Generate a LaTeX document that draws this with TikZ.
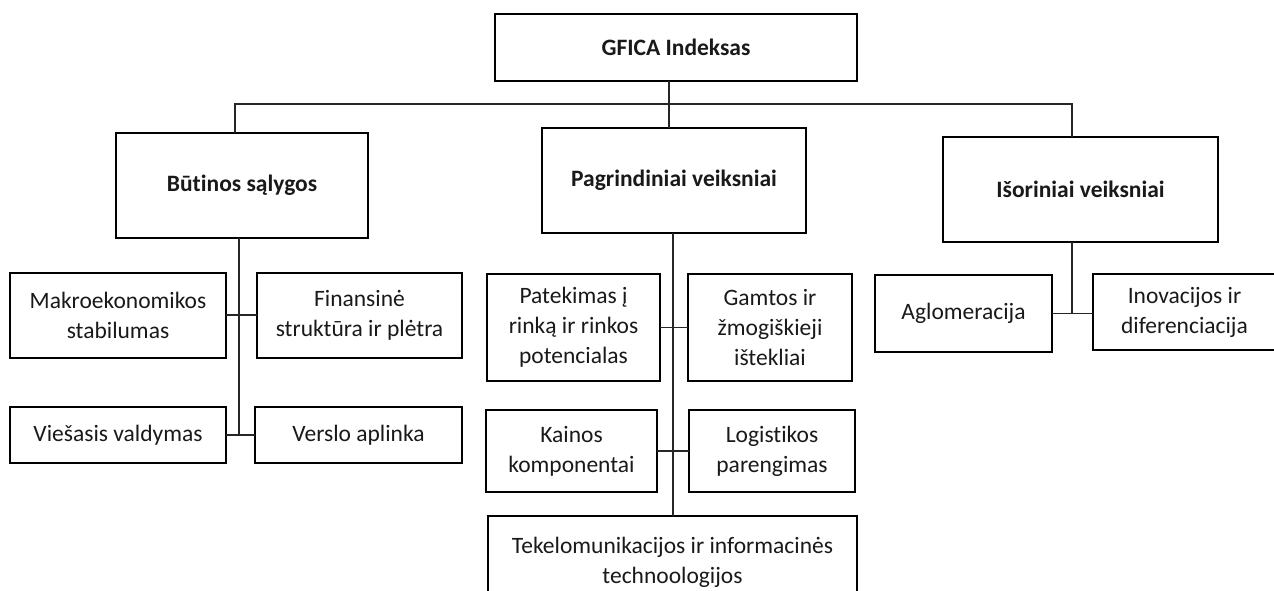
\documentclass[tikz,border=0pt]{standalone}
\usepackage{fontspec}
\setmainfont{Carlito}[RawFeature={-liga;-clig;-calt;-dlig;-rlig}]
\newcommand\tibreak{t\kern0pt i}
\begin{document}
\begin{tikzpicture}[x=1pt,y=-1pt,
  box/.style={draw=black,line width=2pt,inner sep=0pt,outer sep=0pt,align=center,
    font=\fontsize{23.5}{30}\selectfont, text=black!90},
  head/.style={box,font=\fontsize{23.5}{30}\selectfont\bfseries},
  conn/.style={draw=black!85,line width=1.2pt}]
\useasboundingbox (0,0) rectangle (1274,591);
\begin{scope}
\clip (0,0) rectangle (1274,591);
% top
\node[head,minimum width=362pt,minimum height=67pt] (gfica) at (676,47.5) {GFICA Indeksas};
\node[head,minimum width=252pt,minimum height=105pt] (but) at (242,185.5) {Bū\tibreak nos sąlygos};
\node[head,minimum width=264pt,minimum height=105pt] (pag) at (674,180.5) {Pagrindiniai veiksniai};
\node[head,minimum width=275pt,minimum height=105pt] (isor) at (1080.5,189.5) {Išoriniai veiksniai};
% left group
\node[box,minimum width=216pt,minimum height=85pt] (makro) at (118,315) {Makroekonomikos\\stabilumas};
\node[box,minimum width=205pt,minimum height=85pt] (fin) at (359.5,315) {Finansinė\\struktūra ir plėtra};
\node[box,minimum width=216pt,minimum height=56pt] (vies) at (118,435) {Viešasis valdymas};
\node[box,minimum width=207pt,minimum height=56pt] (versl) at (358.5,435) {Verslo aplinka};
% middle group
\node[box,minimum width=173pt,minimum height=107pt] (pat) at (573.5,327.5) {Patekimas į\\rinką ir rinkos\\potencialas};
\node[box,minimum width=164pt,minimum height=107pt] (gamt) at (770,327.5) {Gamtos ir\\žmogiškieji\\ištekliai};
\node[box,minimum width=171pt,minimum height=82pt] (kain) at (571.5,451) {Kainos\\komponentai};
\node[box,minimum width=166pt,minimum height=82pt] (logi) at (772,451) {Logis\tibreak kos\\parengimas};
\node[box,minimum width=369pt,minimum height=92pt] (tele) at (672.5,562) {Tekelomunikacijos ir informacinės\\technoologijos};
% right group
\node[box,minimum width=177pt,minimum height=77pt] (aglo) at (963.5,313.5) {Aglomeracija};
\node[box,minimum width=183pt,minimum height=76pt] (inov) at (1184.5,312) {Inovacijos ir\\diferenciacija};
\end{scope}
% bus
\coordinate (bl) at (235,104);
\coordinate (br) at (1072,104);
\coordinate (bm) at (669,104);
\draw[conn] (but.north -| bl) -- (bl) -- (br) -- (isor.north -| br);
\draw[conn] (gfica.south -| bm) -- (pag.north -| bm);
% left group connectors
\coordinate (lv) at (239,0);
\draw[conn] (but.south -| lv) -- (vies.east -| lv);
\draw[conn] (makro.east) -- (fin.west);
\draw[conn] (vies.east) -- (versl.west);
% middle group connectors
\coordinate (mv) at (673,0);
\draw[conn] (pag.south -| mv) -- (tele.north -| mv);
\draw[conn] (pat.east) -- (gamt.west);
\draw[conn] (kain.east) -- (logi.west);
% right group connectors
\coordinate (rv) at (1072,0);
\draw[conn] (isor.south -| rv) -- (aglo.east -| rv);
\draw[conn] (aglo.east) -- (aglo.east -| inov.west);
\end{tikzpicture}
\end{document}
